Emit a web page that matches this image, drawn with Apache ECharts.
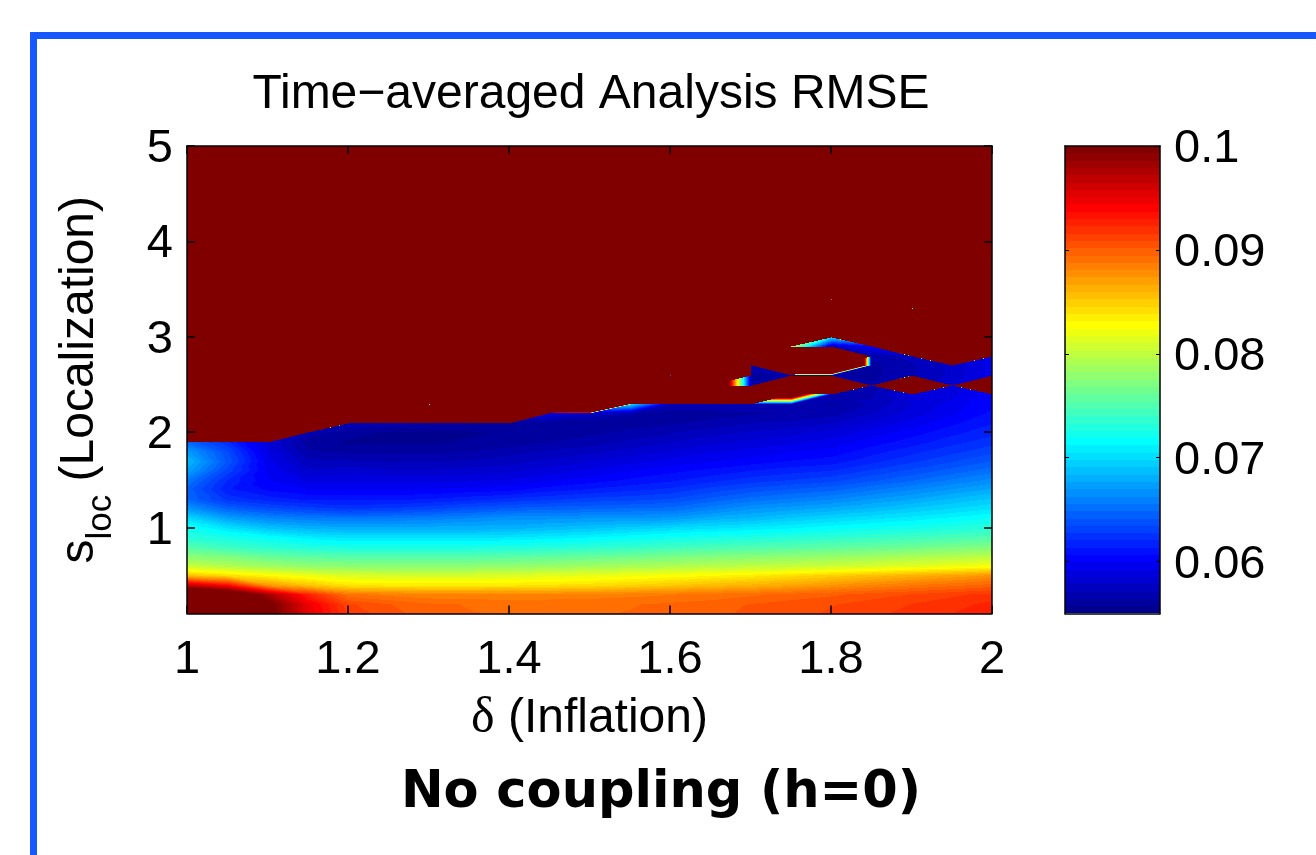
<!DOCTYPE html>
<html><head><meta charset="utf-8">
<style>html,body{margin:0;padding:0;background:#fff}#c{width:1316px;height:855px;filter:blur(0.5px)}</style>
<script src="https://cdn.jsdelivr.net/npm/echarts@6/dist/echarts.min.js"></script>
</head><body><div id="c"></div>
<script>
// Values. S marks a blown-up run far above the colour range.
const S = 5;
const inflation = [1,1.05,1.1,1.15,1.2,1.25,1.3,1.35,1.4,1.45,1.5,1.55,1.6,1.65,1.7,1.75,1.8,1.85,1.9,1.95,2];
const localization = [0.1,0.2,0.3,0.4,0.5,0.6,0.7,0.8,0.9,1,1.1,1.2,1.3,1.4,1.5,1.6,1.7,1.8,1.9,2,2.1,2.2,2.3,2.4,2.5,2.6,2.7,2.8,2.9,3,3.1,3.2,3.3,3.4,3.5,3.6,3.7,3.8,3.9,4,4.1,4.2,4.3,4.4,4.5,4.6,4.7,4.8,4.9,5];
const xTicks = [1,1.2,1.4,1.6,1.8,2];
const yTicks = [1,2,3,4,5];
const barTicks = [0.06,0.07,0.08,0.09,0.1];
const barMin = 0.055, barMax = 0.1;

const s01 = [.108,.106,.1005,.095,.0915,.0905,.0898,.0895,.0894,.0894,.0894,.0895,.0897,.09,.0903,.0906,.091,.0914,.0918,.0923,.0928];
const s02 = [.108,.106,.1005,.0948,.091,.0902,.0896,.0894,.0893,.0893,.0893,.0894,.0896,.0898,.0902,.0905,.0908,.0912,.0916,.092,.0925];
const s03 = [.106,.104,.098,.0925,.089,.0885,.0882,.0882,.0882,.0882,.0883,.0885,.0887,.089,.0893,.0897,.09,.0905,.0909,.0914,.0918];
const s04 = [.097,.094,.0875,.0855,.084,.0838,.0837,.0837,.0838,.084,.0843,.0847,.0852,.0858,.0862,.0868,.0875,.0882,.0888,.0893,.0898];
const s05 = [.0855,.0842,.083,.082,.0812,.081,.081,.081,.0812,.0815,.0818,.0822,.0826,.083,.0835,.0842,.0848,.0855,.0862,.0868,.0875];
const s06 = [.0805,.0795,.0787,.078,.0778,.0778,.0778,.0778,.078,.0783,.0787,.079,.0793,.0797,.08,.0803,.0806,.0811,.0816,.0821,.0826];
const s07 = [.0775,.077,.076,.0755,.0752,.0752,.0752,.0752,.0754,.0757,.076,.0764,.0768,.0772,.0775,.0778,.0781,.0785,.079,.0794,.0798];
const s08 = [.0752,.0742,.0735,.073,.0727,.0727,.0727,.0727,.0729,.0731,.0735,.0738,.0743,.0747,.075,.0753,.0757,.076,.0764,.0769,.0773];
const s09 = [.0732,.0725,.0717,.0708,.0703,.0703,.0703,.0703,.0705,.0708,.0712,.0717,.0722,.0725,.0728,.0732,.0735,.0739,.0743,.0747,.0751];
const s10 = [.0722,.0705,.069,.0683,.068,.068,.068,.068,.0682,.0686,.069,.0695,.07,.0704,.0708,.0712,.0717,.0721,.0725,.0729,.0733];
const s11 = [.07,.0675,.0663,.0658,.0656,.0657,.0659,.0663,.0668,.0668,.067,.0671,.0672,.068,.0685,.0692,.0698,.0703,.0708,.0714,.072];
const s12 = [.0672,.0648,.0638,.0632,.0628,.063,.0634,.064,.0645,.0647,.0649,.0651,.0652,.0661,.067,.0675,.068,.0686,.0693,.0699,.0705];
const s13 = [.0648,.0625,.0617,.0612,.0612,.0612,.0614,.0618,.0622,.0626,.063,.0632,.0635,.0644,.0652,.0657,.0662,.067,.0677,.0685,.0692];
const s14 = [.0645,.0615,.0605,.06,.06,.06,.06,.0602,.0604,.061,.0614,.0618,.0622,.063,.0637,.0642,.0646,.0654,.0662,.067,.0678];
const s15 = [.0655,.062,.06,.059,.059,.059,.059,.0591,.0593,.0598,.0603,.0608,.0612,.0618,.0624,.0628,.0632,.064,.0648,.0657,.0665];
const s16 = [.0675,.0632,.0598,.058,.0582,.058,.058,.0581,.0583,.0588,.0594,.0599,.0604,.0608,.0613,.0617,.062,.0628,.0636,.0644,.0652];
const s17 = [.0685,.064,.0595,.0573,.0572,.0571,.0571,.0572,.0575,.058,.0585,.059,.0595,.0599,.0603,.0607,.061,.0618,.0626,.0634,.0642];
const s18 = [.0672,.0635,.059,.0565,.0562,.0561,.0562,.0564,.0568,.0572,.0576,.0581,.0586,.0591,.0595,.0599,.0602,.061,.0618,.0625,.0632];
const s19 = [.0648,.0622,.0585,.056,.0556,.0556,.0556,.0558,.056,.0564,.0568,.0573,.0578,.0583,.0587,.0591,.0595,.0603,.061,.0618,.0625];
const s20 = [S,S,S,.0568,.056,.0556,.0556,.0556,.0558,.056,.0562,.0566,.057,.0575,.0579,.0583,.0587,.0595,.0603,.0611,.0618];
const s21 = [S,S,S,S,.0572,.0568,.0565,.0564,.0562,.0558,.0557,.056,.0563,.0567,.0571,.0574,.0578,.0587,.0596,.0605,.0613];
const s22 = [S,S,S,S,S,S,S,S,S,.059,.0578,.0565,.0558,.056,.0563,.0565,.0568,.0578,.0588,.0598,.0608];
const s23 = [S,S,S,S,S,S,.078,S,S,S,.4,.07,.0572,.0572,.0572,.0568,.0563,.0572,.0585,.0595,.0605];
const s24 = [S,S,S,S,S,S,S,S,S,S,S,S,S,S,S,.12,.057,.057,.059,.059,.0605];
const s25 = [S,S,S,S,S,S,S,S,S,S,S,S,S,.135,.0565,S,S,.0565,S,.0585,S];
const s26 = [S,S,S,S,S,S,S,S,S,S,S,S,.065,S,.0562,.0565,.0565,.0562,.057,.058,.0595];
const s27 = [S,S,S,S,S,S,S,S,S,S,S,S,S,S,.0568,S,.3,.0562,.057,.058,.0595];
const s28 = [S,S,S,S,S,S,S,S,S,S,S,S,S,S,S,S,S,.0565,.0575,S,.0595];
const s29 = [S,S,S,S,S,S,S,S,S,S,S,S,S,S,S,.08,.0575,.06,S,S,S];
const s30 = [S,S,S,S,S,S,S,S,S,S,S,S,S,S,S,S,.07,S,S,S,S];
const s33 = [S,S,S,S,S,S,S,S,S,S,S,S,S,S,S,S,S,S,.072,S,S];
const s34 = [S,S,S,S,S,S,S,S,S,S,S,S,S,S,S,S,.09,S,S,S,S];
const blown = [S,S,S,S,S,S,S,S,S,S,S,S,S,S,S,S,S,S,S,S,S];

const rows = [s01,s02,s03,s04,s05,s06,s07,s08,s09,s10,s11,s12,s13,s14,s15,s16,s17,s18,s19,s20,
  s21,s22,s23,s24,s25,s26,s27,s28,s29,s30,blown,blown,s33,s34,blown,blown,blown,blown,blown,blown,
  blown,blown,blown,blown,blown,blown,blown,blown,blown,blown];

// MATLAB jet(64) colour table
function clamp(v){return Math.max(0,Math.min(1,v));}
const jet = [];
for(let i=0;i<64;i++){
  const f=(i+1)/64;
  jet.push([
    Math.round(255*clamp(Math.min(4*f-1.5,-4*f+4.5))),
    Math.round(255*clamp(Math.min(4*f-0.5,-4*f+3.5))),
    Math.round(255*clamp(Math.min(4*f+0.5,-4*f+2.5)))
  ]);
}
function levelOf(v){
  const k=Math.floor((v-barMin)/(barMax-barMin)*64);
  return Math.max(0,Math.min(63,k));
}

// one item per grid cell
const cells=[];
for(let r=0;r<rows.length-1;r++){
  for(let c=0;c<inflation.length-1;c++){
    cells.push([inflation[c],localization[r],inflation[c+1],localization[r+1],
      rows[r][c],rows[r][c+1],rows[r+1][c],rows[r+1][c+1]]);
  }
}
const barLevels=[];
for(let i=0;i<64;i++) barLevels.push([0,barMin+(barMax-barMin)*i/64,1,barMin+(barMax-barMin)*(i+1)/64,i]);

function shadeCell(w,h,a00,a10,a01,a11){
  const cv=document.createElement('canvas');cv.width=w;cv.height=h;
  const ctx=cv.getContext('2d');const im=ctx.createImageData(w,h);const d=im.data;
  const mainDiag=Math.abs(a00-a11)<=Math.abs(a10-a01);
  for(let j=0;j<h;j++){
    const t=1-j/h;
    for(let i=0;i<w;i++){
      const s=i/w;let v;
      if(mainDiag){
        v = t<=s ? a00+s*(a10-a00)+t*(a11-a10) : a00+t*(a01-a00)+s*(a11-a01);
      }else{
        v = s+t<=1 ? a00+s*(a10-a00)+t*(a01-a00) : a11+(1-s)*(a01-a11)+(1-t)*(a10-a11);
      }
      const col=jet[levelOf(v)],p=(j*w+i)*4;
      d[p]=col[0];d[p+1]=col[1];d[p+2]=col[2];d[p+3]=255;
    }
  }
  ctx.putImageData(im,0,0);
  return cv;
}

function renderCell(params,api){
  const p0=api.coord([api.value(0),api.value(1)]);
  const p1=api.coord([api.value(2),api.value(3)]);
  const x=Math.round(p0[0]),r=Math.round(p1[0]),y=Math.round(p1[1]),b=Math.round(p0[1]);
  const a00=api.value(4),a10=api.value(5),a01=api.value(6),a11=api.value(7);
  const w=r-x,h=b-y;
  if(Math.min(a00,a10,a01,a11)>=barMax){
    return {type:'rect',shape:{x:x,y:y,width:w,height:h},style:{fill:'rgb('+jet[63].join(',')+')'},silent:true};
  }
  return {type:'image',style:{image:shadeCell(w,h,a00,a10,a01,a11),x:x,y:y,width:w,height:h},silent:true};
}
function renderBar(params,api){
  const p0=api.coord([api.value(0),api.value(1)]);
  const p1=api.coord([api.value(2),api.value(3)]);
  const y=Math.round(p1[1]),b=Math.round(p0[1]);
  return {type:'rect',shape:{x:p0[0],y:y,width:p1[0]-p0[0],height:b-y},
    style:{fill:'rgb('+jet[api.value(4)].join(',')+')'},silent:true};
}

const sans='"Liberation Sans",Arial,sans-serif';
function axisLineOf(){return {show:true,onZero:false,lineStyle:{color:'#000',width:1.5}};}
function hiddenLabels(o){return Object.assign({axisLabel:{show:false},splitLine:{show:false},z:5},o);}

const chart=echarts.init(document.getElementById('c'),null,{renderer:'canvas'});
chart.setOption({
  animation:false,
  backgroundColor:'#fff',
  title:[
    {text:'Time\u2212averaged Analysis RMSE',left:586,top:66,textAlign:'center',
      textStyle:{fontFamily:sans,fontWeight:'normal',fontSize:48,color:'#000'}},
    {text:'No coupling (h=0)',left:656,top:763,textAlign:'center',
      textStyle:{fontFamily:'"DejaVu Sans"',fontWeight:'bold',fontSize:51,color:'#000'}}
  ],
  grid:[
    {left:187,top:146,width:805,height:467.5},
    {left:1065,top:146,width:95,height:467.5}
  ],
  xAxis:[
    {gridIndex:0,type:'value',position:'bottom',min:1,max:2,interval:0.2,z:5,
      name:'{d|\u03b4} (Inflation)',nameLocation:'middle',nameGap:80,
      nameTextStyle:{fontFamily:sans,fontSize:48,color:'#000',rich:{d:{fontFamily:'"Liberation Serif"',fontSize:50,color:'#000'}}},
      axisLine:axisLineOf(),
      axisTick:{show:true,inside:true,length:8,lineStyle:{color:'#000',width:1.5},customValues:xTicks},
      axisLabel:{fontFamily:sans,fontSize:47,color:'#000',margin:23,customValues:xTicks,showMinLabel:true,showMaxLabel:true},
      splitLine:{show:false}},
    hiddenLabels({gridIndex:0,type:'value',position:'top',min:1,max:2,interval:0.2,
      axisLine:axisLineOf(),
      axisTick:{show:true,inside:true,length:8,lineStyle:{color:'#000',width:1.5},customValues:xTicks}}),
    hiddenLabels({gridIndex:1,type:'value',position:'bottom',min:0,max:1,
      axisLine:axisLineOf(),axisTick:{show:false}}),
    hiddenLabels({gridIndex:1,type:'value',position:'top',min:0,max:1,
      axisLine:axisLineOf(),axisTick:{show:false}})
  ],
  yAxis:[
    {gridIndex:0,type:'value',position:'left',min:0.1,max:5,z:5,
      name:'{s|s}{l|loc}{s| (Localization)}',nameLocation:'middle',nameGap:68,nameRotate:90,
      nameTextStyle:{rich:{
        s:{fontFamily:sans,fontSize:48,color:'#000'},
        l:{fontFamily:sans,fontSize:35,color:'#000',padding:[44,0,0,0]}
      }},
      axisLine:axisLineOf(),
      axisTick:{show:true,inside:true,length:8,lineStyle:{color:'#000',width:1.5},customValues:yTicks},
      axisLabel:{fontFamily:sans,fontSize:47,color:'#000',margin:14,verticalAlign:'top',lineHeight:6,customValues:yTicks},
      splitLine:{show:false}},
    hiddenLabels({gridIndex:0,type:'value',position:'right',min:0.1,max:5,
      axisLine:axisLineOf(),
      axisTick:{show:true,inside:true,length:8,lineStyle:{color:'#000',width:1.5},customValues:yTicks}}),
    {gridIndex:1,type:'value',position:'right',min:barMin,max:barMax,z:5,
      axisLine:axisLineOf(),
      axisTick:{show:true,inside:true,length:4,lineStyle:{color:'#000',width:1},customValues:barTicks},
      axisLabel:{fontFamily:sans,fontSize:47,color:'#000',margin:14,verticalAlign:'top',lineHeight:6,customValues:barTicks,formatter:function(v){return String(+v.toFixed(2));}},
      splitLine:{show:false}},
    hiddenLabels({gridIndex:1,type:'value',position:'left',min:barMin,max:barMax,
      axisLine:axisLineOf(),
      axisTick:{show:true,inside:true,length:4,lineStyle:{color:'#000',width:1},customValues:barTicks}})
  ],
  series:[
    {type:'custom',coordinateSystem:'cartesian2d',xAxisIndex:0,yAxisIndex:0,z:1,silent:true,
      renderItem:renderCell,data:cells,encode:{x:[0,2],y:[1,3]}},
    {type:'custom',coordinateSystem:'cartesian2d',xAxisIndex:2,yAxisIndex:2,z:1,silent:true,
      renderItem:renderBar,data:barLevels,encode:{x:[0,2],y:[1,3]}}
  ],
  graphic:[
    {type:'rect',shape:{x:30,y:32,width:1286,height:7},style:{fill:'#1558ff'},silent:true},
    {type:'rect',shape:{x:30,y:32,width:7,height:823},style:{fill:'#1558ff'},silent:true}
  ]
});
</script></body></html>
